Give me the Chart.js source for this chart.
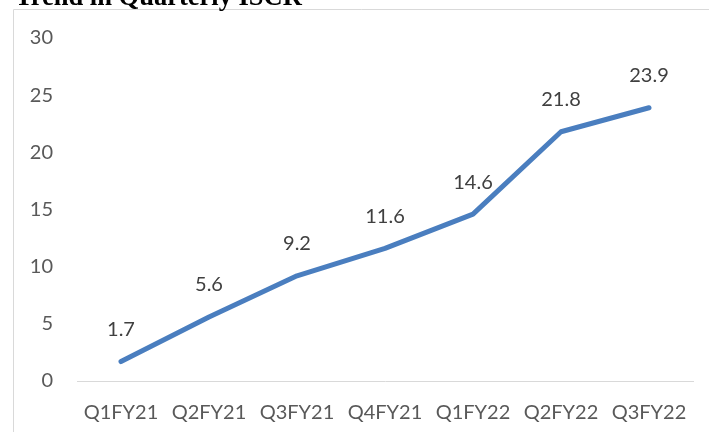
<!DOCTYPE html>
<html>
<head>
<meta charset="utf-8">
<script src="https://cdn.jsdelivr.net/npm/chart.js@4/dist/chart.umd.min.js"></script>
<style>
  html, body { margin: 0; padding: 0; background: #fff; }
  #wrap { position: relative; width: 709px; height: 432px; overflow: hidden; }
</style>
</head>
<body>
<div id="wrap"><canvas id="chart" width="709" height="432"></canvas></div>
<script>
  var quarters = ['Q1FY21', 'Q2FY21', 'Q3FY21', 'Q4FY21', 'Q1FY22', 'Q2FY22', 'Q3FY22'];
  var iscr = [1.7, 5.6, 9.2, 11.6, 14.6, 21.8, 23.9];
  var yTicks = [0, 5, 10, 15, 20, 25, 30];
  var chartTitle = 'Trend in Quarterly ISCR';

  // frame + title (the title sits partly above the picture, as in the source)
  var framePlugin = {
    id: 'frame',
    beforeDraw: function(chart) {
      var ctx = chart.ctx;
      ctx.save();
      ctx.strokeStyle = '#d9d9d9';
      ctx.lineWidth = 1;
      ctx.beginPath();
      ctx.moveTo(13.5, 440);
      ctx.lineTo(13.5, 9.5);
      ctx.lineTo(720, 9.5);
      ctx.stroke();
      ctx.fillStyle = '#000';
      ctx.font = 'bold 26.5px "Liberation Serif", "Times New Roman", serif';
      ctx.textAlign = 'left';
      ctx.textBaseline = 'alphabetic';
      ctx.fillText(chartTitle, 15, 5);
      ctx.restore();
    }
  };

  // value labels above each point
  var valueLabels = {
    id: 'valueLabels',
    afterDatasetsDraw: function(chart) {
      var ctx = chart.ctx;
      var meta = chart.getDatasetMeta(0);
      ctx.save();
      ctx.fillStyle = '#404040';
      ctx.font = '20px Lato, "Open Sans", sans-serif';
      ctx.textAlign = 'center';
      ctx.textBaseline = 'middle';
      meta.data.forEach(function(pt, i) {
        ctx.fillText(String(iscr[i]), pt.x, pt.y - 32);
      });
      ctx.restore();
    }
  };

  var ctx = document.getElementById('chart').getContext('2d');
  new Chart(ctx, {
    type: 'line',
    data: {
      labels: quarters,
      datasets: [{
        data: iscr,
        borderColor: '#4a7ebf',
        borderWidth: 5,
        borderCapStyle: 'round',
        borderJoinStyle: 'round',
        pointRadius: 0,
        pointHoverRadius: 0,
        tension: 0,
        fill: false
      }]
    },
    options: {
      responsive: false,
      animation: false,
      events: [],
      layout: { padding: { top: 38, right: 16, bottom: 0, left: 0 } },
      plugins: {
        legend: { display: false },
        tooltip: { enabled: false },
        title: { display: false }
      },
      scales: {
        x: {
          offset: true,
          grid: { display: false, drawTicks: false },
          border: { display: true, color: '#d9d9d9', width: 1 },
          ticks: {
            color: '#595959',
            font: { family: 'Lato', size: 20 },
            padding: 20,
            maxRotation: 0,
            autoSkip: false
          },
          afterFit: function(scale) { scale.height = 51; }
        },
        y: {
          min: 0,
          max: 30,
          afterBuildTicks: function(scale) {
            scale.ticks = yTicks.map(function(v) { return { value: v }; });
          },
          grid: { display: false, drawTicks: false },
          border: { display: false },
          ticks: {
            color: '#595959',
            font: { family: 'Lato', size: 20 },
            padding: 24
          },
          afterFit: function(scale) { scale.width = 77; }
        }
      }
    },
    plugins: [framePlugin, valueLabels]
  });
</script>
</body>
</html>
